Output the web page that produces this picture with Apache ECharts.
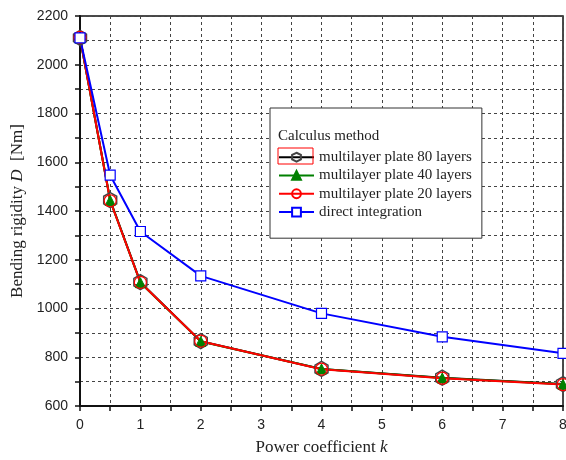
<!DOCTYPE html>
<html>
<head>
<meta charset="utf-8">
<script src="https://cdn.jsdelivr.net/npm/echarts@6/dist/echarts.min.js"></script>
<style>
  html, body { margin: 0; padding: 0; background: #fff; }
  #chart { width: 566px; height: 460px; }
</style>
</head>
<body>
<div id="chart"></div>
<script>
// power coefficient k
const kValues = [0, 0.5, 1, 2, 4, 6, 8];
// bending rigidity D [Nm]
const layers80 = [2110, 1445, 1108, 866, 752, 716, 690];
const layers40 = [2110, 1443, 1106, 865, 752, 715, 689];
const layers20 = [2112, 1442, 1107, 866, 751, 714, 688];
const direct = [2110, 1547, 1316, 1134, 980, 884, 816];

const names = [
  'multilayer plate 80 layers',
  'multilayer plate 40 layers',
  'multilayer plate 20 layers',
  'direct integration'
];

const pairs = arr => kValues.map((k, i) => [k, arr[i]]);
const hexagon = 'path://M0,-1 L0.866,-0.5 L0.866,0.5 L0,1 L-0.866,0.5 L-0.866,-0.5 Z';

const chart = echarts.init(document.getElementById('chart'));

const gridDash = { type: [3, 3], color: '#444', width: 1 };

chart.setOption({
  animation: false,
  grid: {
    left: 80, right: 3, top: 16, bottom: 54,
    outerBoundsMode: 'none', containLabel: false,
    show: true, borderColor: '#111', borderWidth: 1.5
  },
  xAxis: {
    type: 'value',
    min: 0, max: 8, interval: 0.5,
    name: 'Power coefficient {i|k}',
    nameLocation: 'middle',
    nameGap: 33,
    nameTextStyle: {
      fontFamily: 'Liberation Serif', fontSize: 17, color: '#222',
      rich: { i: { fontFamily: 'Liberation Serif', fontStyle: 'italic', fontSize: 17, color: '#222' } }
    },
    axisLine: { lineStyle: { color: '#111', width: 2 } },
    axisTick: { inside: false, length: 5, lineStyle: { color: '#111', width: 1.5 } },
    axisLabel: {
      margin: 12, fontFamily: 'Liberation Sans', fontSize: 14, color: '#222',
      formatter: v => (Number.isInteger(v) ? String(v) : '')
    },
    splitLine: { show: true, lineStyle: gridDash }
  },
  yAxis: {
    type: 'value',
    min: 600, max: 2200, interval: 100,
    name: 'Bending rigidity {i|D}  [Nm]',
    nameLocation: 'middle',
    nameGap: 54,
    nameTextStyle: {
      fontFamily: 'Liberation Serif', fontSize: 17, color: '#222',
      rich: { i: { fontFamily: 'Liberation Serif', fontStyle: 'italic', fontSize: 17, color: '#222' } }
    },
    axisLine: { show: true, lineStyle: { color: '#111', width: 2 } },
    axisTick: { inside: false, length: 5, lineStyle: { color: '#111', width: 1.5 } },
    axisLabel: {
      margin: 12, fontFamily: 'Liberation Sans', fontSize: 14, color: '#222',
      formatter: v => (v % 200 === 0 ? String(v) : '')
    },
    splitLine: { show: true, lineStyle: gridDash }
  },
  legend: {
    orient: 'vertical',
    left: 270, top: 108,
    padding: [40, 10, 17, 8],
    borderColor: '#333', borderWidth: 1,
    backgroundColor: '#fff',
    itemWidth: 35, itemHeight: 11, itemGap: 0,
    textStyle: { fontFamily: 'Liberation Serif', fontSize: 15, color: '#222', lineHeight: 18.3 },
    data: names
  },
  graphic: [
    {
      type: 'text', left: 278, top: 129, z: 100,
      style: { text: 'Calculus method', font: '15px "Liberation Serif"', fill: '#222' }
    },
    {
      type: 'rect', z: 100,
      shape: { x: 278, y: 148, width: 35, height: 16 },
      style: { fill: 'none', stroke: '#f00', lineWidth: 1 }
    }
  ],
  series: [
    {
      name: names[0], type: 'line', data: pairs(layers80),
      symbol: hexagon, symbolSize: 15, symbolKeepAspect: true,
      lineStyle: { color: '#000', width: 2 },
      itemStyle: { color: 'rgba(0,0,0,0)', borderColor: '#444', borderWidth: 1.5 }
    },
    {
      name: names[1], type: 'line', data: pairs(layers40),
      symbol: 'triangle', symbolSize: 10,
      lineStyle: { color: '#008000', width: 2 },
      itemStyle: { color: '#008000', borderColor: '#008000', borderWidth: 1 }
    },
    {
      name: names[2], type: 'line', data: pairs(layers20),
      symbol: 'circle', symbolSize: 12,
      lineStyle: { color: '#f00', width: 2 },
      itemStyle: { color: 'rgba(255,255,255,0)', borderColor: '#f00', borderWidth: 1.2 }
    },
    {
      name: names[3], type: 'line', data: pairs(direct),
      symbol: 'rect', symbolSize: 10,
      lineStyle: { color: '#00f', width: 2 },
      itemStyle: { color: '#fff', borderColor: '#00f', borderWidth: 1.2 }
    }
  ]
});
</script>
</body>
</html>
